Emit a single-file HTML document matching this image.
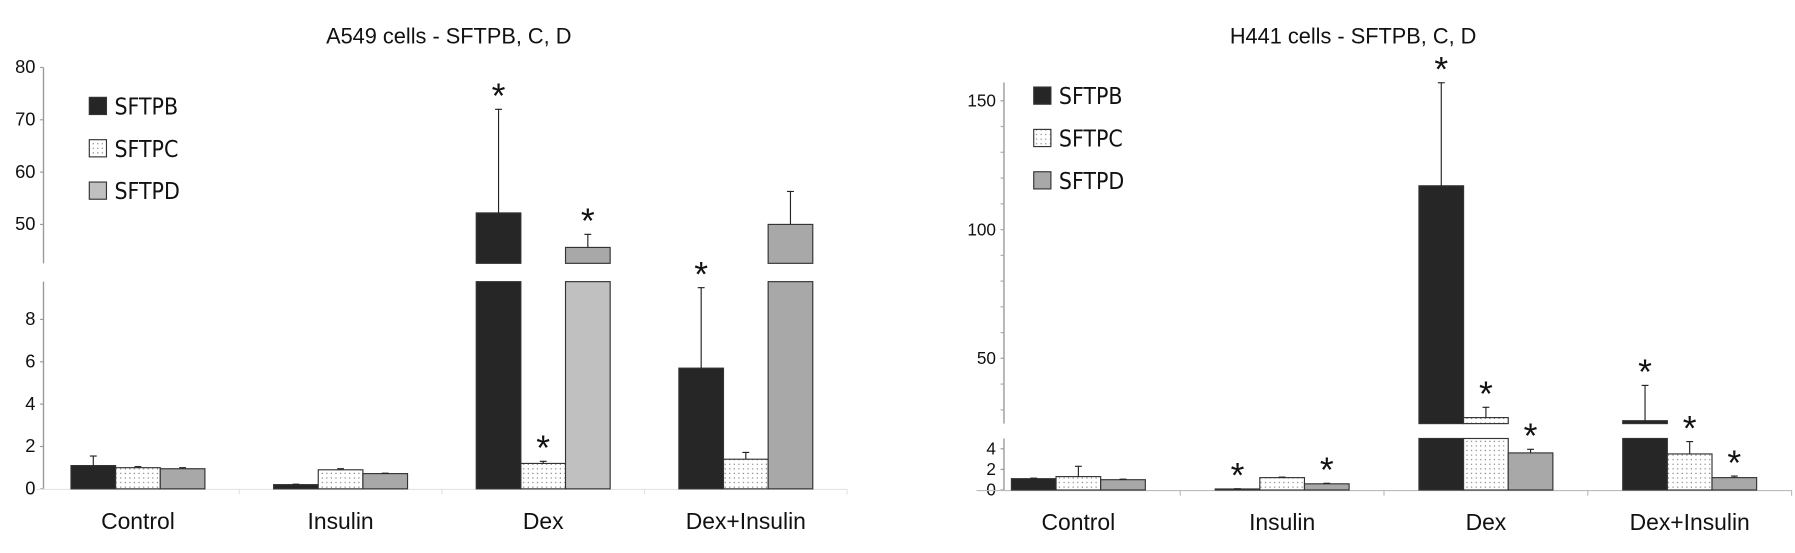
<!DOCTYPE html>
<html><head><meta charset="utf-8"><style>
html,body{margin:0;padding:0;background:#fff;}
svg{display:block;}
text{font-family:"Liberation Sans",Arial,sans-serif;}
.leg{font-family:"DejaVu Sans Condensed","Liberation Sans",sans-serif;}
</style></head><body>
<svg id="fig" width="1795" height="553" viewBox="0 0 1568 483" xmlns="http://www.w3.org/2000/svg">
<defs>
<pattern id="dots" width="4" height="4" patternUnits="userSpaceOnUse">
<rect width="4" height="4" fill="#fff"/><rect x="1" y="1" width="1" height="1" fill="#777"/>
</pattern>
</defs>
<g id="chartA"></g>
<g id="chartB"></g>
</svg>
<script>
const categories = ["Control","Insulin","Dex","Dex+Insulin"];
const seriesNames = ["SFTPB","SFTPC","SFTPD"];
// A549 values / error tops / significance
const a549B = [1.1, 0.2, 52.2, 5.7];
const a549C = [1.0, 0.9, 1.2, 1.4];
const a549D = [0.95, 0.72, 45.6, 50.0];
const a549BErr = [1.55, 0.22, 72, 9.5];
const a549CErr = [1.05, 0.95, 1.3, 1.72];
const a549DErr = [1.0, 0.74, 48.1, 56.3];
const a549BSig = [0,0,1,1];
const a549CSig = [0,0,1,0];
const a549DSig = [0,0,1,0];
const a549LowTicks = [0,2,4,6,8];
const a549HighTicks = [50,60,70,80];
// H441 values
const h441B = [1.1, 0.1, 117, 25.8];
const h441C = [1.3, 1.2, 27, 3.5];
const h441D = [1.0, 0.6, 3.6, 1.2];
const h441BErr = [1.15, 0.12, 157, 39.5];
const h441CErr = [2.3, 1.25, 31, 4.7];
const h441DErr = [1.05, 0.65, 3.95, 1.35];
const h441BSig = [0,1,1,1];
const h441CSig = [0,0,1,1];
const h441DSig = [0,1,1,1];
const h441LowTicks = [0,2,4];
const h441HighTicks = [50,100,150];

const NS="http://www.w3.org/2000/svg";
function mk(parent,tag,attrs,txt){const e=document.createElementNS(NS,tag);for(const k in attrs)e.setAttribute(k,attrs[k]);if(txt!==undefined)e.textContent=txt;parent.appendChild(e);return e;}

function draw(g,cfg){
  const low=v=>cfg.y0-v*cfg.lowK;
  const high=v=>cfg.hiRefY-(v-cfg.hiRef)*cfg.hiK;
  const lowMax=(cfg.y0-cfg.lowTop)/cfg.lowK;
  const t=mk(g,'text',{x:cfg.titleX,y:cfg.titleY,'text-anchor':'middle','font-size':19,fill:'#111'},cfg.title);
  
  
  const ax=mk(g,'g',{});
  
  
  mk(ax,'line',{x1:cfg.ax,x2:cfg.ax,y1:cfg.hiTop,y2:cfg.hiBottom,stroke:'#999','stroke-width':1.2});
  mk(ax,'line',{x1:cfg.ax,x2:cfg.ax,y1:cfg.lowTop,y2:cfg.y0,stroke:'#999','stroke-width':1.2});
  cfg.lowTicks.forEach(v=>{
    mk(ax,'line',{x1:cfg.ax-3,x2:cfg.ax,y1:low(v),y2:low(v),stroke:'#999'});
    const l=mk(ax,'text',{x:cfg.ax-7,y:low(v)+5,'text-anchor':'end','font-size':cfg.tickFs,fill:'#111'},String(v));
    
    
  });
  cfg.highTicks.forEach(v=>{
    mk(ax,'line',{x1:cfg.ax-3,x2:cfg.ax,y1:high(v),y2:high(v),stroke:'#999'});
    const l=mk(ax,'text',{x:cfg.ax-7,y:high(v)+5,'text-anchor':'end','font-size':cfg.tickFs,fill:'#111'},String(v));
    
    
  });
  if(cfg.minor){for(let v=30;v<=160;v+=10){if(high(v)>cfg.hiTop&&high(v)<cfg.hiBottom)mk(ax,'line',{x1:cfg.ax-3,x2:cfg.ax,y1:high(v),y2:high(v),stroke:'#aaa'});}}
  mk(g,'line',{x1:cfg.xStart,x2:cfg.xStart+cfg.groupW*4,y1:cfg.y0+0.5,y2:cfg.y0+0.5,stroke:cfg.xAxisColor});
  for(let i=1;i<=4;i++)mk(g,'line',{x1:cfg.xStart+cfg.groupW*i,x2:cfg.xStart+cfg.groupW*i,y1:cfg.y0,y2:cfg.y0+5,stroke:cfg.xAxisColor});
  const fills=['#262626','url(#dots)',cfg.dFill];
  categories.forEach((c,i)=>{
    const cx=cfg.xStart+cfg.groupW*(i+0.5);
    const xl=mk(g,'text',{x:cx,y:cfg.y0+35,'text-anchor':'middle','font-size':20,fill:'#111'},c);
    
    
    cfg.series.forEach((s,k)=>{
      const v=s.vals[i],e=s.err[i];
      const x=cx+(k-1.5)*cfg.bw;
      const bg=mk(g,'g',{});
      
      
      let fill=fills[k];
      if(k===2&&cfg.lightD&&cfg.lightD[i])fill=cfg.lightD[i];
      let topY;
      if(v<=lowMax){topY=low(v);mk(bg,'rect',{x:x,y:topY,width:cfg.bw,height:cfg.y0-topY,fill:fills[k],stroke:'#333','stroke-width':1});}
      else{
        mk(bg,'rect',{x:x,y:cfg.lowTop,width:cfg.bw,height:cfg.y0-cfg.lowTop,fill:fill,stroke:'#333','stroke-width':1});
        topY=high(v);
        mk(bg,'rect',{x:x,y:topY,width:cfg.bw,height:Math.max(cfg.hiBottom-topY,2),fill:fills[k],stroke:'#333','stroke-width':1});
      }
      const ey=e<=lowMax?low(e):high(e);
      mk(bg,'line',{x1:x+cfg.bw/2,x2:x+cfg.bw/2,y1:topY,y2:ey,stroke:'#222','stroke-width':1});
      mk(bg,'line',{x1:x+cfg.bw/2-3,x2:x+cfg.bw/2+3,y1:ey,y2:ey,stroke:'#222','stroke-width':1});
      if(s.sig[i]){
        const st=mk(g,'text',{x:x+cfg.bw/2,y:Math.min(ey,topY)-1,'text-anchor':'middle','font-size':31,fill:'#111'},'*');
        
        
      }
    });
  });
  const lg=mk(g,'g',{});
  
  
  seriesNames.forEach((n,k)=>{
    const y=cfg.legY+k*cfg.legDy;
    const le=mk(lg,'g',{});
    
    
    mk(le,'rect',{x:cfg.legX,y:y-8,width:15,height:15,fill:k===2?cfg.legD:fills[k],stroke:'#333'});
    mk(le,'text',{x:cfg.legX+22,y:y+7,'font-size':20,fill:'#111','class':'leg'},n);
  });
}

draw(document.getElementById('chartA'),{
  title:'A549 cells - SFTPB, C, D',titleX:392,titleY:38,
  ax:38,y0:427,lowK:18.5,lowTop:246,hiRef:50,hiRefY:196,hiK:4.57,hiBottom:230,hiTop:59,
  xStart:32,groupW:177,bw:39,tickFs:16,lowTicks:a549LowTicks,highTicks:a549HighTicks,
  dFill:'#a8a8a8',lightD:[null,null,'#c0c0c0',null],legD:'#c0c0c0',legX:78,legY:93,legDy:37,xAxisColor:'#e4e4e4',
  series:[{vals:a549B,err:a549BErr,sig:a549BSig},{vals:a549C,err:a549CErr,sig:a549CSig},{vals:a549D,err:a549DErr,sig:a549DSig}]
});
draw(document.getElementById('chartB'),{
  title:'H441 cells - SFTPB, C, D',titleX:1182,titleY:38,
  ax:877,y0:428,lowK:9,lowTop:383,hiRef:50,hiRefY:313,hiK:2.25,hiBottom:370,hiTop:72,
  xStart:853,groupW:178,bw:39,tickFs:15,lowTicks:h441LowTicks,highTicks:h441HighTicks,minor:true,
  dFill:'#a8a8a8',lightD:null,legD:'#a8a8a8',legX:903,legY:84,legDy:37,xAxisColor:'#bbb',
  series:[{vals:h441B,err:h441BErr,sig:h441BSig},{vals:h441C,err:h441CErr,sig:h441CSig},{vals:h441D,err:h441DErr,sig:h441DSig}]
});
</script>
</body></html>
